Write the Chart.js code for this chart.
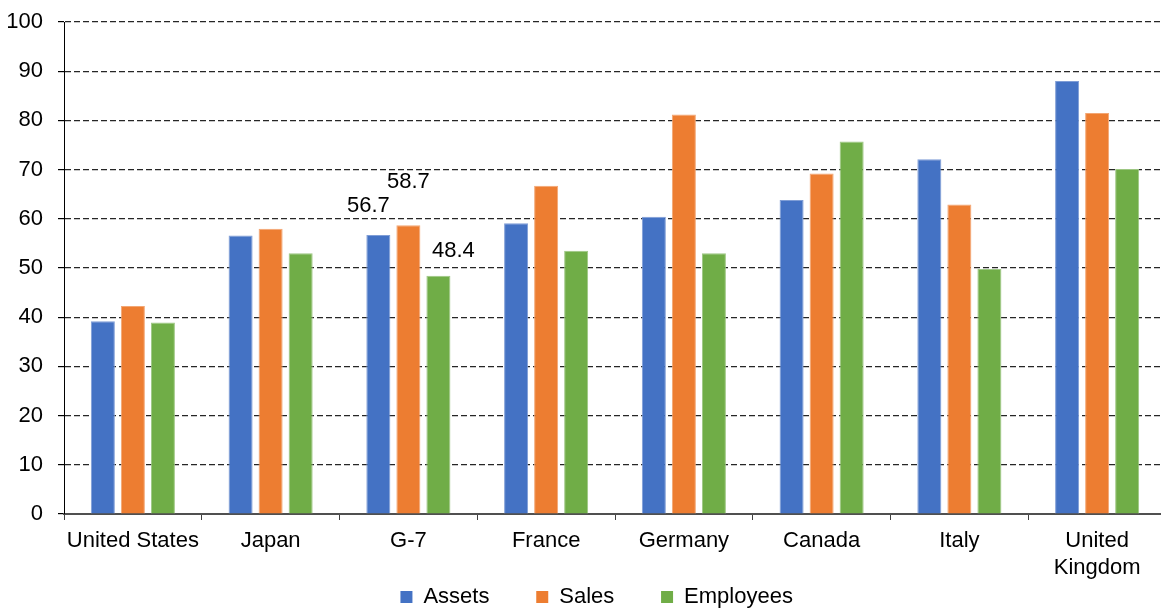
<!DOCTYPE html>
<html>
<head>
<meta charset="utf-8">
<script src="https://cdn.jsdelivr.net/npm/chart.js@4"></script>
<style>
  html, body { margin: 0; padding: 0; background: #fff; overflow: hidden; }
  .chart-container { position: relative; width: 1166px; height: 618px; }
</style>
</head>
<body>
<div class="chart-container"><canvas id="shareChart"></canvas></div>
<script>
// Categories and series
const countries = ['United States', 'Japan', 'G-7', 'France', 'Germany', 'Canada', 'Italy', ['United', 'Kingdom']];
const assets = [39.2, 56.6, 56.7, 59.1, 60.4, 63.8, 72.1, 88.0];
const sales = [42.3, 58.0, 58.7, 66.7, 81.2, 69.2, 62.9, 81.5];
const employees = [38.9, 53.0, 48.4, 53.5, 53.0, 75.7, 49.8, 70.1];
const yTicks = [0, 10, 20, 30, 40, 50, 60, 70, 80, 90, 100];

// Value labels are shown for the G-7 group only
const labelledIndex = 2;
const labelOffsets = [[-10, 29], [0, 43], [15, 25]];

const FONT = "'Liberation Sans', Arial, sans-serif";
Chart.defaults.font.family = FONT;
Chart.defaults.font.size = 22;
Chart.defaults.color = '#000';

const valueLabels = {
    id: 'valueLabels',
    afterDatasetsDraw(chart) {
        const ctx = chart.ctx;
        ctx.save();
        ctx.font = '22px ' + FONT;
        ctx.fillStyle = '#000';
        ctx.textAlign = 'center';
        ctx.textBaseline = 'middle';
        chart.data.datasets.forEach((ds, i) => {
            const bar = chart.getDatasetMeta(i).data[labelledIndex];
            const off = labelOffsets[i];
            ctx.fillText(ds.data[labelledIndex].toFixed(1), bar.x + off[0], bar.y - off[1]);
        });
        ctx.restore();
    }
};

const ctx = document.getElementById('shareChart').getContext('2d');
new Chart(ctx, {
    type: 'bar',
    data: {
        labels: countries,
        datasets: [
            { label: 'Assets', data: assets, backgroundColor: '#4472C4', borderColor: '#7F9DD6' },
            { label: 'Sales', data: sales, backgroundColor: '#ED7D31', borderColor: '#F3A673' },
            { label: 'Employees', data: employees, backgroundColor: '#70AD47', borderColor: '#9DC783' }
        ]
    },
    options: {
        responsive: true,
        maintainAspectRatio: false,
        animation: false,
        datasets: {
            bar: { categoryPercentage: 0.654, barPercentage: 0.8, borderWidth: 1 }
        },
        layout: { padding: { left: 8, top: 22, right: 0, bottom: 0 } },
        plugins: {
            tooltip: { enabled: false },
            legend: {
                position: 'bottom',
                fullSize: false,
                labels: {
                    boxWidth: 12,
                    boxHeight: 12,
                    padding: 4,
                    font: { size: 22 },
                    // pad the entries with spaces so the items sit further apart
                    generateLabels(chart) {
                        const items = Chart.defaults.plugins.legend.labels.generateLabels(chart);
                        items.forEach((it, i) => {
                            it.lineWidth = 0;
                            it.strokeStyle = it.fillStyle;
                            it.text = it.text + (i < items.length - 1 ? '       ' : '      ');
                        });
                        return items;
                    }
                }
            }
        },
        scales: {
            x: {
                afterFit(axis) { axis.height = 68; },
                grid: {
                    display: true,
                    drawOnChartArea: false,
                    drawTicks: true,
                    tickLength: 6,
                    offset: true,
                    color: '#404040'
                },
                border: { display: true, color: '#505050', width: 2 },
                ticks: { padding: 8, maxRotation: 0, autoSkip: false }
            },
            y: {
                min: 0,
                max: 100,
                afterBuildTicks(axis) {
                    axis.ticks = yTicks.map(v => ({ value: v }));
                },
                afterFit(axis) {
                    axis.width = 56;
                    axis.paddingTop = 0;
                    axis.paddingBottom = 0;
                },
                grid: {
                    color: '#262626',
                    lineWidth: 1.2,
                    tickLength: 6,
                    tickColor: '#000'
                },
                border: { display: true, color: '#000', width: 1, dash: [6, 3] },
                ticks: { padding: 15 }
            }
        }
    },
    plugins: [valueLabels]
});
</script>
</body>
</html>
